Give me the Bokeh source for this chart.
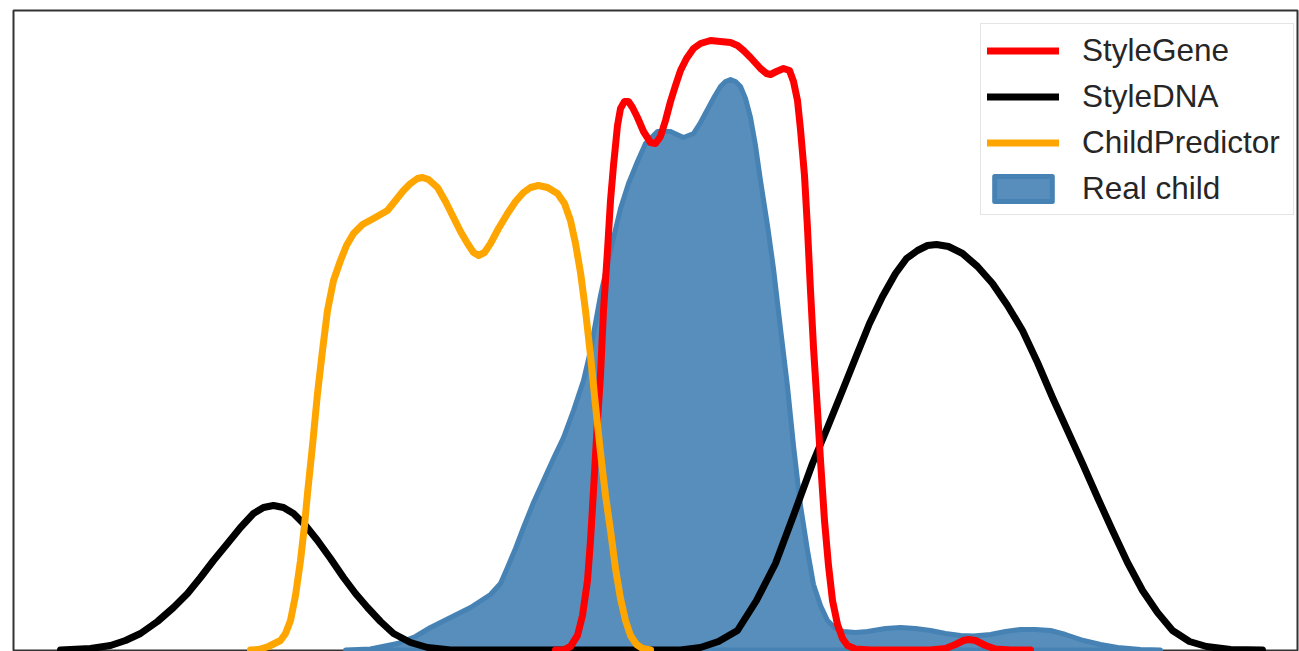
from bokeh.plotting import figure
from bokeh.models import Range1d, Legend, LegendItem
from bokeh.embed import file_html
from bokeh.resources import INLINE

# ---- data (x: score, y: density) ----
black_x = [4.7, 7.7, 9.7, 11.2, 12.7, 14.4, 16.0, 17.4, 18.7, 20.0, 21.4, 22.7, 24.0, 25.0, 26.0, 27.0, 28.0,
           29.2, 30.4, 31.7, 33.0, 34.2, 35.4, 36.7, 38.0, 39.7, 41.4, 43.7, 48.7, 58.7, 66.7, 68.7, 70.5, 72.4,
           74.3, 76.2, 78.0, 79.9, 81.4, 82.9, 84.3, 85.6, 86.9, 88.2, 89.3, 90.4, 91.4, 92.3, 93.5, 94.9, 96.4,
           97.9, 99.4, 100.9, 102.4, 103.9, 105.4, 106.9, 108.4, 109.9, 111.4, 112.9, 114.4, 115.9, 117.6,
           119.3, 121.7, 124.9]
black_y = [0.0, 0.003, 0.009, 0.019, 0.033, 0.057, 0.085, 0.113, 0.145, 0.179, 0.213, 0.245, 0.273, 0.285,
           0.289, 0.285, 0.273, 0.249, 0.219, 0.183, 0.145, 0.113, 0.085, 0.057, 0.033, 0.015, 0.005, 0.0, 0.0,
           0.0, 0.0, 0.005, 0.017, 0.039, 0.099, 0.173, 0.269, 0.373, 0.445, 0.519, 0.589, 0.653, 0.707, 0.753,
           0.783, 0.799, 0.809, 0.811, 0.807, 0.793, 0.767, 0.733, 0.689, 0.639, 0.575, 0.505, 0.439, 0.373,
           0.305, 0.239, 0.175, 0.119, 0.075, 0.039, 0.017, 0.007, 0.001, 0.0]

red_x = [54.2, 55.0, 55.7, 56.4, 56.9, 57.4, 57.7, 58.0, 58.4, 58.7, 59.0, 59.4, 59.7, 60.0, 60.4, 60.7, 61.1,
         61.5, 61.9, 62.4, 63.0, 63.7, 64.2, 64.7, 65.2, 65.7, 66.2, 66.7, 67.3, 68.0, 68.7, 69.7, 70.7, 71.7,
         72.4, 73.0, 73.7, 74.7, 75.3, 75.7, 76.3, 77.0, 77.6, 78.0, 78.4, 78.7, 79.1, 79.4, 79.7, 80.0, 80.4,
         80.7, 81.1, 81.5, 81.9, 82.4, 82.9, 83.4, 84.2, 85.7, 91.7, 93.2, 94.2, 95.0, 95.5, 96.2, 97.2, 98.2,
         99.7, 101.7]
red_y = [0.0, 0.0, 0.007, 0.029, 0.069, 0.139, 0.219, 0.319, 0.459, 0.549, 0.679, 0.799, 0.899, 0.969, 1.049,
         1.083, 1.097, 1.097, 1.085, 1.065, 1.037, 1.015, 1.013, 1.027, 1.059, 1.097, 1.129, 1.159, 1.183,
         1.203, 1.213, 1.219, 1.217, 1.215, 1.209, 1.199, 1.185, 1.163, 1.153, 1.151, 1.157, 1.163, 1.159,
         1.137, 1.099, 1.041, 0.949, 0.843, 0.719, 0.605, 0.479, 0.379, 0.259, 0.169, 0.099, 0.051, 0.023,
         0.009, 0.002, 0.0, 0.0, 0.003, 0.011, 0.019, 0.021, 0.019, 0.009, 0.002, 0.0, 0.0]

orange_x = [23.7, 24.5, 25.5, 26.7, 27.2, 27.7, 28.2, 28.7, 29.1, 29.4, 29.9, 30.4, 30.9, 31.4, 32.0, 32.7,
            33.3, 34.0, 34.9, 36.0, 36.7, 37.4, 38.2, 39.0, 39.7, 40.4, 40.9, 41.5, 42.4, 43.2, 44.0, 44.7,
            45.4, 46.0, 46.5, 47.1, 47.7, 48.5, 49.4, 50.2, 51.0, 51.7, 52.5, 53.4, 54.4, 55.1, 55.7, 56.2,
            56.7, 57.2, 57.7, 58.2, 58.7, 59.2, 59.7, 60.2, 60.7, 61.2, 61.7, 62.3, 62.9, 63.7]
orange_y = [0.0, 0.001, 0.007, 0.019, 0.033, 0.059, 0.109, 0.179, 0.249, 0.313, 0.409, 0.513, 0.599, 0.679,
            0.739, 0.779, 0.809, 0.833, 0.851, 0.863, 0.871, 0.879, 0.899, 0.919, 0.933, 0.943, 0.945, 0.941,
            0.925, 0.897, 0.865, 0.837, 0.813, 0.795, 0.789, 0.795, 0.813, 0.843, 0.873, 0.897, 0.915, 0.925,
            0.929, 0.925, 0.913, 0.893, 0.859, 0.813, 0.755, 0.679, 0.589, 0.489, 0.395, 0.309, 0.239, 0.163,
            0.103, 0.059, 0.029, 0.011, 0.003, 0.0]

blue_x = [33.2, 35.7, 38.4, 40.2, 41.7, 43.7, 45.7, 47.7, 48.7, 49.4, 50.2, 51.0, 52.0, 53.0, 54.0, 55.0, 56.0,
          57.0, 57.7, 58.7, 59.7, 60.7, 61.5, 62.4, 63.2, 64.4, 65.7, 67.0, 68.0, 68.7, 69.4, 70.1, 70.7, 71.2,
          71.7, 72.2, 72.7, 73.2, 73.7, 74.2, 74.7, 75.4, 76.0, 76.7, 77.4, 78.0, 78.7, 79.4, 80.0, 80.7, 81.4,
          82.2, 83.0, 84.2, 85.4, 87.2, 88.7, 90.2, 91.7, 93.2, 94.7, 96.0, 97.7, 99.2, 100.7, 102.2, 103.7,
          105.2, 107.0, 108.7, 110.4, 112.7, 114.7]
blue_y = [0.0, 0.002, 0.013, 0.027, 0.045, 0.065, 0.085, 0.111, 0.133, 0.165, 0.203, 0.245, 0.295, 0.339,
          0.383, 0.425, 0.479, 0.539, 0.599, 0.709, 0.799, 0.883, 0.933, 0.977, 1.013, 1.037, 1.037, 1.025,
          1.033, 1.055, 1.081, 1.107, 1.127, 1.137, 1.141, 1.137, 1.127, 1.103, 1.065, 1.009, 0.939, 0.849,
          0.763, 0.643, 0.527, 0.409, 0.289, 0.199, 0.131, 0.089, 0.059, 0.043, 0.037, 0.035, 0.037, 0.043,
          0.045, 0.043, 0.039, 0.033, 0.029, 0.028, 0.031, 0.037, 0.041, 0.041, 0.039, 0.031, 0.019, 0.011,
          0.005, 0.001, 0.0]

p = figure(width=1299, height=651, output_backend="svg", toolbar_location=None,
           x_range=Range1d(0, 128.4), y_range=Range1d(-0.003, 1.279),
           x_axis_location=None, y_axis_location=None,
           min_border=0, min_border_left=13, min_border_right=2, min_border_top=10, min_border_bottom=0)
p.grid.visible = False
p.outline_line_color = "#333333"
p.outline_line_width = 2
p.background_fill_color = "white"
p.border_fill_color = "white"

r_blue = p.patch(blue_x, blue_y, fill_color="#4682b4", fill_alpha=0.9,
                 line_color="#4682b4", line_width=5, line_join="round")
r_black = p.line(black_x, black_y, line_color="black", line_width=7, line_cap="round", line_join="round")
r_red = p.line(red_x, red_y, line_color="#ff0000", line_width=7, line_cap="round", line_join="round")
r_orange = p.line(orange_x, orange_y, line_color="#ffa500", line_width=7, line_cap="round", line_join="round")

legend = Legend(items=[
    LegendItem(label="StyleGene", renderers=[r_red]),
    LegendItem(label="StyleDNA", renderers=[r_black]),
    LegendItem(label="ChildPredictor", renderers=[r_orange]),
    LegendItem(label="Real child", renderers=[r_blue]),
], location=(967, 436))
legend.margin = 0
legend.padding = 6
legend.spacing = 6
legend.label_height = 40
legend.label_width = 205
legend.glyph_height = 31
legend.glyph_width = 72
legend.label_standoff = 23
legend.label_text_font = "Liberation Sans"
legend.label_text_font_size = "31.5px"
legend.label_text_color = "#262626"
legend.border_line_color = "#cccccc"
legend.border_line_width = 1
legend.background_fill_color = "white"
legend.background_fill_alpha = 0.8
p.add_layout(legend, "center")

open("out.html", "w").write(file_html(p, INLINE))
